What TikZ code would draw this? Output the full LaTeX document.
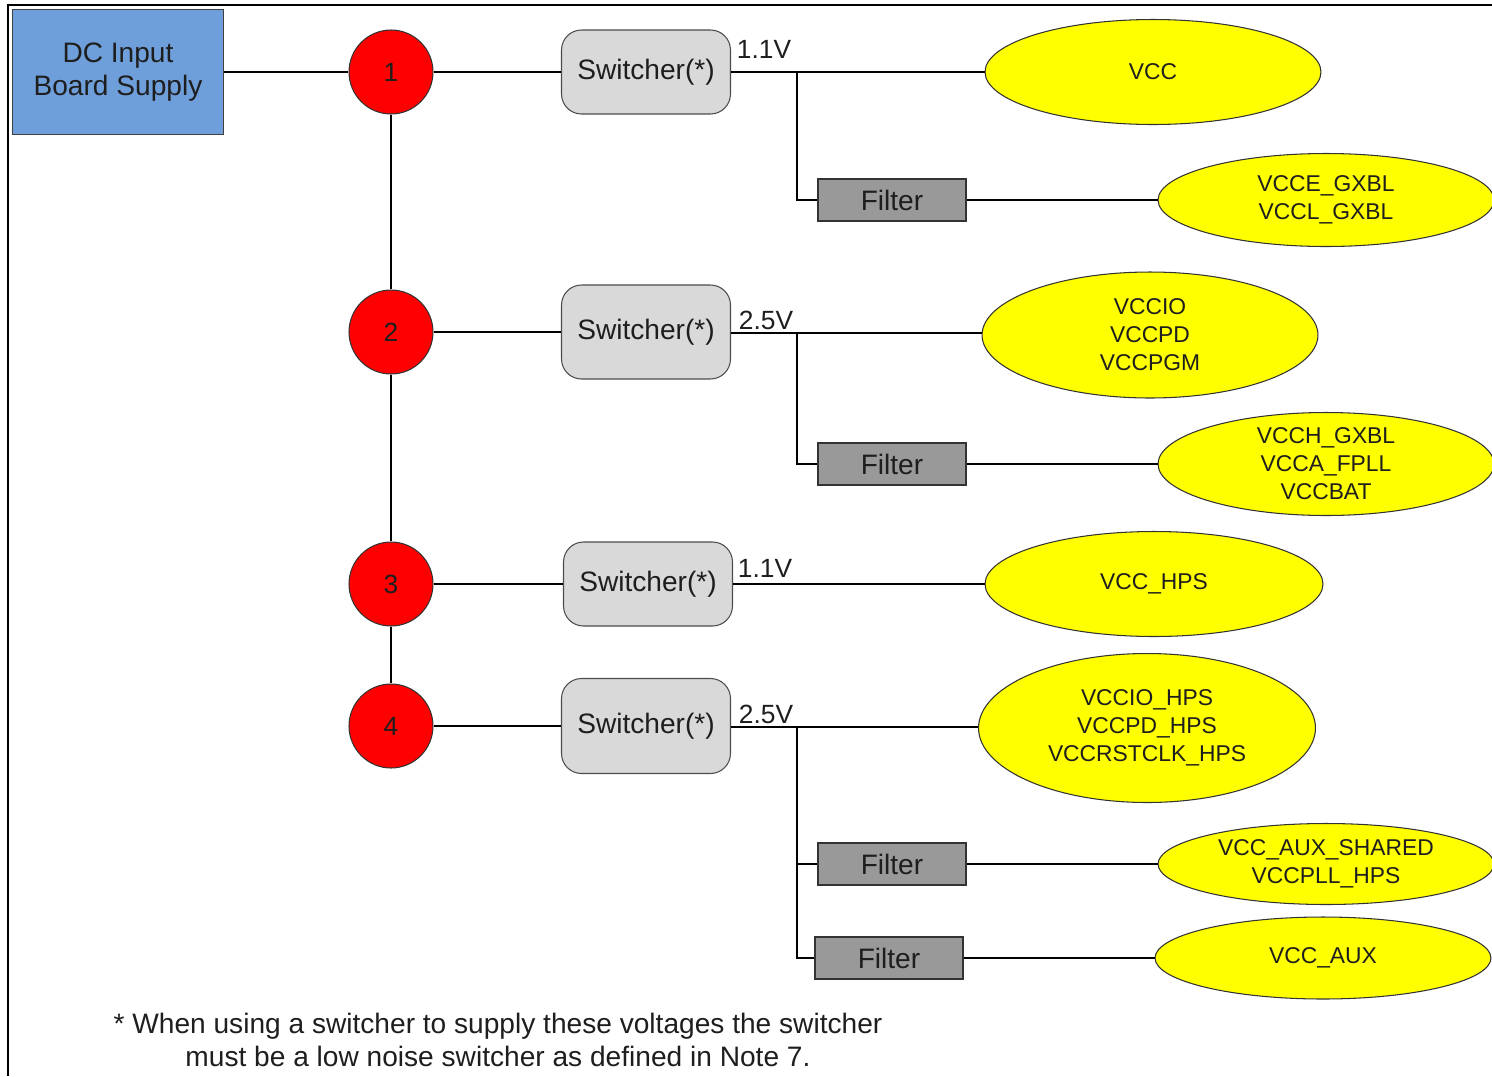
\documentclass[tikz,border=0pt]{standalone}
\usepackage{fontspec}
\setmainfont{Liberation Sans}
\usetikzlibrary{shapes.geometric}

\definecolor{boxblue}{HTML}{6F9FDA}
\definecolor{swgray}{HTML}{D9D9D9}
\definecolor{filtgray}{HTML}{999999}
\definecolor{loadyellow}{HTML}{FFFF00}
\definecolor{railred}{HTML}{FF0000}
\definecolor{txt}{HTML}{1E1E1E}

\begin{document}
\begin{tikzpicture}[x=0.02cm, y=-0.02cm, line width=1.1pt,
          inbox/.style={rectangle, draw=black!75, fill=boxblue, line width=0.7pt,
            minimum width=4.22cm, minimum height=2.5cm, align=center,
            text=txt, font=\fontsize{16}{19}\selectfont},
          railnode/.style={circle, draw=black!80, fill=railred, line width=0.6pt,
            minimum size=1.68cm, inner sep=0pt, text=txt, font=\fontsize{15}{18}\selectfont},
          switcher/.style={rectangle, rounded corners=0.4cm, draw=black!70, fill=swgray,
            line width=0.6pt, minimum width=3.38cm, minimum height=1.68cm,
            text=txt, font=\fontsize{16}{19}\selectfont},
          filterbox/.style={rectangle, draw=black!80, fill=filtgray, line width=0.6pt,
            minimum width=2.96cm, minimum height=0.84cm, inner sep=0pt,
            text=txt, font=\fontsize{16}{19}\selectfont},
          load/.style={ellipse, draw=black!80, fill=loadyellow, line width=0.6pt,
            minimum width=6.72cm, inner sep=0pt, align=center,
            text=txt, font=\fontsize{13}{16}\selectfont},
          volt/.style={anchor=base west, inner sep=0pt, text=txt,
            font=\fontsize{15}{18}\selectfont}]

        \clip (0,0) rectangle (1492,1076);
        \draw (8,1076) -- (8,5) -- (1492,5);

        \node[inbox] (dc) at (118,72) {DC Input\\Board Supply};

        \node[railnode] (n1) at (391,72)  {1};
        \node[railnode] (n2) at (391,332) {2};
        \node[railnode] (n3) at (391,584) {3};
        \node[railnode] (n4) at (391,726) {4};

        \node[switcher] (sw1) at (646,72)  {Switcher(*)};
        \node[switcher, minimum height=1.88cm] (sw2) at (646,332) {Switcher(*)};
        \node[switcher] (sw3) at (648,584) {Switcher(*)};
        \node[switcher, minimum height=1.9cm]  (sw4) at (646,726) {Switcher(*)};

        \node[volt] (v1) at (736,58)  {1.1V};
        \node[volt] (v2) at (738,329) {2.5V};
        \node[volt] (v3) at (737,577) {1.1V};
        \node[volt] (v4) at (738,723) {2.5V};

        \node[filterbox] (f1) at (892,200) {Filter};
        \node[filterbox] (f2) at (892,464) {Filter};
        \node[filterbox] (f3) at (892,864) {Filter};
        \node[filterbox] (f4) at (889,958) {Filter};

        \node[load, minimum height=2.1cm]  (e1) at (1153,72)  {VCC};
        \node[load, minimum height=1.86cm] (e2) at (1326,200) {VCCE\_GXBL\\VCCL\_GXBL};
        \node[load, minimum height=2.52cm] (e3) at (1150,335) {VCCIO\\VCCPD\\VCCPGM};
        \node[load, minimum height=2.06cm] (e4) at (1326,464) {VCCH\_GXBL\\VCCA\_FPLL\\VCCBAT};
        \node[load, minimum height=2.1cm, minimum width=6.76cm] (e5) at (1154,584) {VCC\_HPS};
        \node[load, minimum height=2.98cm, minimum width=6.74cm] (e6) at (1147,728) {VCCIO\_HPS\\VCCPD\_HPS\\VCCRSTCLK\_HPS};
        \node[load, minimum height=1.62cm] (e7) at (1326,864) {VCC\_AUX\_SHARED\\VCCPLL\_HPS};
        \node[load, minimum height=1.64cm] (e8) at (1323,958) {VCC\_AUX};

        \coordinate (b1) at (797,72);
        \coordinate (b2) at (797,333);
        \coordinate (b4) at (797,727);

        \draw (dc)  -- (n1);
        \draw (n1)  -- (n2);
        \draw (n2)  -- (n3);
        \draw (n3)  -- (n4);

        \draw (n1)  -- (sw1);
        \draw (n2)  -- (sw2);
        \draw (n3)  -- (sw3);
        \draw (n4)  -- (sw4);

        \draw (sw1) -- (e1);
        \draw (b1)  |- (f1.west);
        \draw (f1)  -- (e2);

        \draw (sw2.east |- b2) -- (e3.west |- b2);
        \draw (b2)  |- (f2.west);
        \draw (f2)  -- (e4);

        \draw (sw3) -- (e5);

        \draw (sw4.east |- b4) -- (e6.west |- b4);
        \draw (b4)  |- (f3.west);
        \draw (b4)  |- (f4.west);
        \draw (f3)  -- (e7);
        \draw (f4)  -- (e8);

        \node[align=center, text=txt, font=\fontsize{16}{19}\selectfont] (note) at (498,1040)
          {* When using a switcher to supply these voltages the switcher\\must be a low noise switcher as defined in Note 7.};

      \end{tikzpicture}
\end{document}
